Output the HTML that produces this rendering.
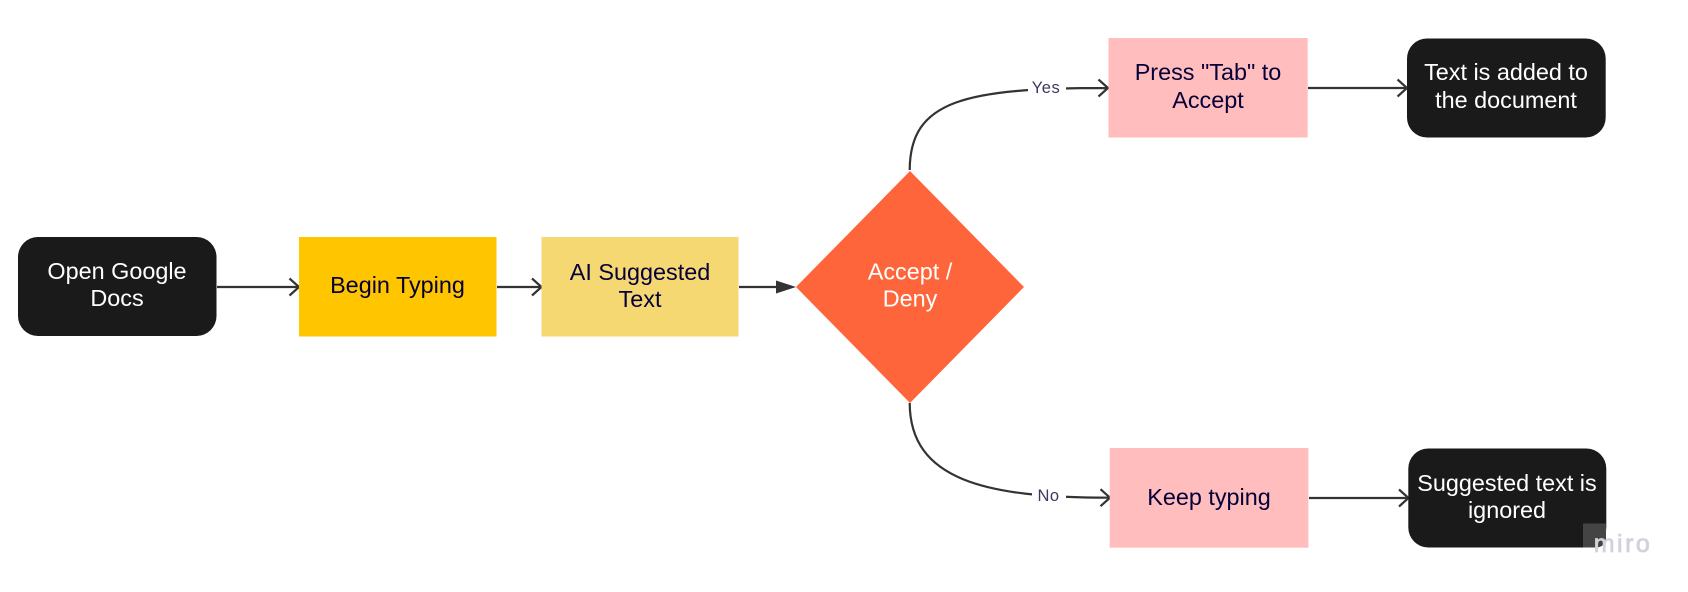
<!DOCTYPE html>
<html>
<head>
<meta charset="utf-8">
<style>
html,body{margin:0;padding:0;background:#fff}
svg{display:block}
text{font-family:"Liberation Sans",sans-serif;text-anchor:middle}
.t{font-size:23.4px}
.w{fill:#fff}
.d{fill:#050038}
.l{font-size:16.500px;fill:#3b3a5e;letter-spacing:.5px}
.c{fill:none;stroke:#333;stroke-width:2.200}
</style>
</head>
<body>
<svg width="1688" height="592" viewBox="0 0 1688 592" xmlns="http://www.w3.org/2000/svg">
<rect width="1688" height="592" fill="#fff"/>

<!-- connectors -->
<path class="c" d="M217 287H299M289.500 278.500L299 287L289.500 295.500"/>
<path class="c" d="M497 287H541.500M532 278.500L541.500 287L532 295.500"/>
<path class="c" d="M739 287H780"/>
<polygon points="796,287 776,280.500 776,293.500" fill="#333"/>
<path class="c" d="M909.700 170C910 100 965 88 1108 88M1098.500 79.500L1108 88L1098.500 96.500"/>
<path class="c" d="M909.700 403C910 480 985 497.700 1110 497.700M1100.500 489.200L1110 497.700L1100.500 506.200"/>
<path class="c" d="M1308 88H1407M1397.500 79.500L1407 88L1397.500 96.500"/>
<path class="c" d="M1309 498H1408.500M1399 489.500L1408.500 498L1399 506.500"/>
<rect x="1028" y="76" width="38" height="24" fill="#fff"/>
<rect x="1032" y="484" width="34" height="24" fill="#fff"/>
<text class="l" x="1046" y="93">Yes</text>
<text class="l" x="1048.500" y="501">No</text>

<!-- shapes -->
<rect x="18" y="237" width="198.500" height="99" rx="20" fill="#1a1a1a"/>
<rect x="299" y="237" width="197.500" height="99.500" fill="#ffc600"/>
<rect x="541.500" y="237" width="197" height="99.500" fill="#f6d872"/>
<polygon points="910,171 1024,287 910,403 796,287" fill="#ff653b"/>
<rect x="1108.500" y="38" width="199.200" height="99.500" fill="#ffbdbd"/>
<rect x="1407" y="38.500" width="198.700" height="99" rx="20" fill="#1a1a1a"/>
<rect x="1109.700" y="448" width="198.700" height="99.700" fill="#ffbdbd"/>
<rect x="1408.300" y="448.500" width="198" height="99" rx="20" fill="#1a1a1a"/>

<!-- labels -->
<text class="t w" x="117" y="279">Open Google</text>
<text class="t w" x="117" y="306">Docs</text>
<text class="t d" x="397.500" y="293">Begin Typing</text>
<text class="t d" x="640" y="280">AI Suggested</text>
<text class="t d" x="640" y="307">Text</text>
<text class="t w" x="910" y="279.500">Accept /</text>
<text class="t w" x="910" y="306.500">Deny</text>
<text class="t d" x="1208" y="80">Press "Tab" to</text>
<text class="t d" x="1208" y="108">Accept</text>
<text class="t w" x="1506" y="80">Text is added to</text>
<text class="t w" x="1506" y="108">the document</text>
<text class="t d" x="1209" y="505">Keep typing</text>
<text class="t w" x="1507" y="491">Suggested text is</text>
<text class="t w" x="1507" y="518">ignored</text>

<!-- watermark -->
<path d="M1583 523.500H1606V538A9.500 9.500 0 0 1 1596.500 547.500H1583Z" fill="#444"/>
<text x="1623" y="552" style="font-size:25px;letter-spacing:2.500px;fill:#d2d2dc;stroke:#d2d2dc;stroke-width:.8">miro</text>
</svg>
</body>
</html>
